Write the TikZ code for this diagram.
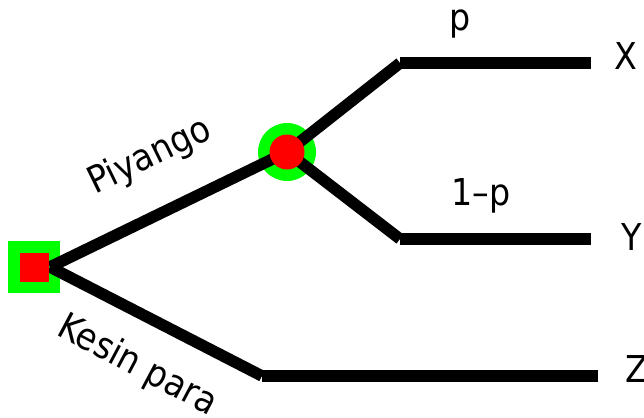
\documentclass[tikz,border=0pt]{standalone}
\usepackage{fontspec}
\setmainfont{DejaVu Sans Condensed}
\begin{document}
\begin{tikzpicture}[x=1pt,y=-1pt,
  branch/.style={line width=11.5pt,line cap=butt},
  lbl/.style={inner sep=0pt,font=\fontsize{37}{42}\selectfont},
  outersq/.style={fill=green,minimum size=52pt,inner sep=0pt},
  innersq/.style={fill=red,minimum size=29pt,inner sep=0pt},
  outerc/.style={circle,fill=green,minimum size=58pt,inner sep=0pt},
  innerc/.style={circle,fill=red,minimum size=35pt,inner sep=0pt}]
\useasboundingbox[fill=white] (0,0) rectangle (644,417);
% decision node (square)
\node[outersq] (sq) at (34,267) {};
\coordinate (s) at (50,267);
% chance node (circle)
\node[outerc] (ch) at (287,152) {};
\coordinate (c) at (287,152);
% end points
\coordinate (ux) at (400,63);
\coordinate (ex) at (591,63);
\coordinate (ly) at (400,239);
\coordinate (ey) at (591,239);
\coordinate (kz) at (262,376);
\coordinate (ez) at (598,376);
% connectors
\draw[branch] (s) -- (c);
\draw[branch] (s) -- (kz);
\draw[branch] (kz) -- (ez);
\draw[branch] (c) -- (ux);
\draw[branch] (ux) -- (ex);
\draw[branch] (c) -- (ly);
\draw[branch] (ly) -- (ey);
\node[innersq] (sqr) at (34,267) {};
\node[innerc] (chr) at (c) {};
% labels
\node[lbl,rotate=26] (piy) at (150,157) {Piyango};
\node[lbl,rotate=-28] (kes) at (137,366) {Kesin para};
\node[lbl,anchor=base] (p) at (460,31) {p};
\node[lbl,anchor=base] (q) at (481,205) {1–p};
\node[lbl,anchor=base west] (X) at (614,70) {X};
\node[lbl,anchor=base west] (Y) at (621,250) {Y};
\node[lbl,anchor=base west] (Z) at (625,382) {Z};
\end{tikzpicture}
\end{document}
